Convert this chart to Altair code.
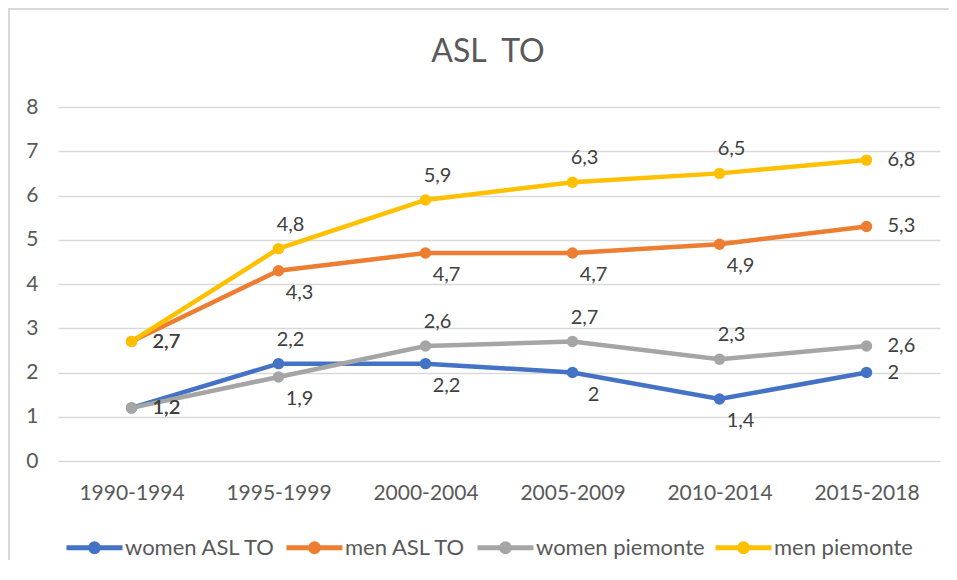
import altair as alt
import pandas as pd

title_text = "ASL\u00a0\u00a0TO"
categories = ["1990-1994", "1995-1999", "2000-2004", "2005-2009", "2010-2014", "2015-2018"]
series_names = ["women ASL TO", "men ASL TO", "women piemonte", "men piemonte"]
women_asl_to = [1.2, 2.2, 2.2, 2.0, 1.4, 2.0]
men_asl_to = [2.7, 4.3, 4.7, 4.7, 4.9, 5.3]
women_piemonte = [1.2, 1.9, 2.6, 2.7, 2.3, 2.6]
men_piemonte = [2.7, 4.8, 5.9, 6.3, 6.5, 6.8]
colors = ["#4472C4", "#ED7D31", "#A5A5A5", "#FFC000"]
# where each data label sits relative to its point
side_women_asl_to = ["right", "above", "below", "below", "below", "right"]
side_men_asl_to = ["right", "below", "below", "below", "below", "right"]
side_women_piemonte = ["right", "below", "above", "above", "above", "right"]
side_men_piemonte = ["right", "above", "above", "above", "above", "right"]

values = [women_asl_to, men_asl_to, women_piemonte, men_piemonte]
sides = [side_women_asl_to, side_men_asl_to, side_women_piemonte, side_men_piemonte]

rows = []
for name, vals, sd in zip(series_names, values, sides):
    for c, v, s in zip(categories, vals, sd):
        rows.append({
            "period": c,
            "series": name,
            "value": v,
            "label": f"{v:g}".replace(".", ","),
            "side": s,
        })
df = pd.DataFrame(rows)

FONT = "Lato"
W, H = 882, 354

x = alt.X(
    "period:N",
    sort=categories,
    scale=alt.Scale(type="point", padding=0.5),
    axis=alt.Axis(title=None, labelAngle=0, ticks=False, domain=False, grid=False,
                  labelFontSize=21, labelColor="#595959", labelFont=FONT, labelPadding=21),
)
y = alt.Y(
    "value:Q",
    scale=alt.Scale(domain=[0, 8], nice=False, zero=True),
    axis=alt.Axis(title=None, values=list(range(9)), ticks=False, domain=False, grid=True,
                  gridColor="#D9D9D9", gridWidth=1.5, labelFontSize=21, labelColor="#595959",
                  labelFont=FONT, labelPadding=20),
)

color_scale = alt.Scale(domain=series_names, range=colors)
sym_path = "M-1,0H1M-0.14,0A0.14,0.14,0,1,1,0.14,0A0.14,0.14,0,1,1,-0.14,0Z"
legend = alt.Legend(
    title=None, orient="none", legendX=6, legendY=410, direction="horizontal",
    symbolType=sym_path, symbolSize=3136, symbolStrokeWidth=5,
    labelFontSize=22, labelColor="#595959", labelFont=FONT, labelLimit=400,
    columnPadding=0, labelOffset=0, padding=0,
)

base = alt.Chart(df)

lines = base.mark_line(strokeWidth=4.5).encode(
    x=x, y=y, stroke=alt.Stroke("series:N", scale=color_scale, legend=legend)
)
points = base.mark_point(filled=True, size=130, opacity=1).encode(
    x=x, y=y, fill=alt.Fill("series:N", scale=color_scale, legend=legend)
)

txt = dict(fontSize=20, color="#404040", font=FONT, baseline="middle")
lab_above = base.mark_text(align="center", dx=12, dy=-24, **txt).encode(
    x=x, y=y, text="label:N"
).transform_filter(alt.datum.side == "above")
lab_below = base.mark_text(align="center", dx=21, dy=22, **txt).encode(
    x=x, y=y, text="label:N"
).transform_filter(alt.datum.side == "below")
lab_right = base.mark_text(align="left", dx=21, dy=0, **txt).encode(
    x=x, y=y, text="label:N"
).transform_filter(alt.datum.side == "right")

one = alt.Data(values=[{"t": title_text}])
title = alt.Chart(one).mark_text(
    fontSize=32, font=FONT, color="#595959", align="center", baseline="alphabetic"
).encode(text="t:N", x=alt.value(430), y=alt.value(-45))

border_left = alt.Chart(one).mark_rule(color="#D9D9D9", strokeWidth=2).encode(
    x=alt.value(-49), y=alt.value(-99), y2=alt.value(460)
)
border_top = alt.Chart(one).mark_rule(color="#D9D9D9", strokeWidth=2).encode(
    x=alt.value(-49), x2=alt.value(891), y=alt.value(-98), y2=alt.value(-98)
)

chart = alt.layer(
    border_left, border_top, title, lines, points, lab_above, lab_below, lab_right
).properties(
    width=W, height=H,
    autosize=alt.AutoSizeParams(type="none"),
    padding={"left": 50, "top": 99, "right": 9, "bottom": 99},
).configure(background="white").configure_view(stroke=None)

chart.save("out.html", embed_options={"renderer": "svg", "actions": False})
